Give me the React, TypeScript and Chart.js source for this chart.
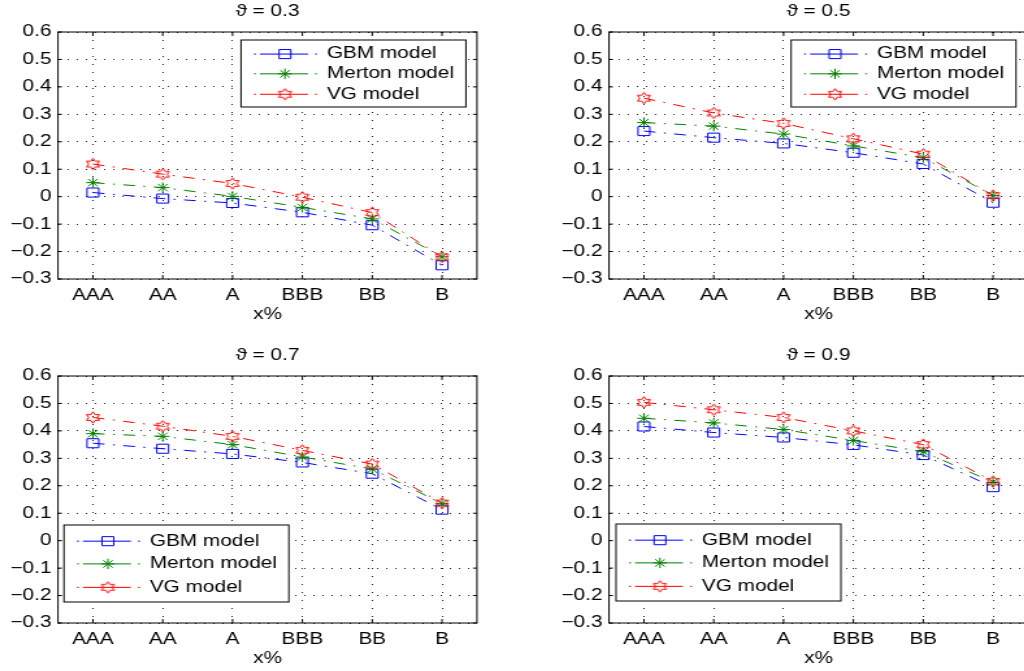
import React, { useEffect, useRef } from 'react';
import { Chart, registerables } from 'chart.js';
import { drawPoint } from 'chart.js/helpers';

Chart.register(...registerables);

// ---------- data ----------
const categories = ['AAA', 'AA', 'A', 'BBB', 'BB', 'B'];
const seriesNames = ['GBM model', 'Merton model', 'VG model'];
const seriesColors = ['#0000ff', '#008000', '#ff0000'];
const panelTitles = ['ϑ = 0.3', 'ϑ = 0.5', 'ϑ = 0.7', 'ϑ = 0.9'];
const xAxisTitle = 'x%';
const yTickValues = [-0.3, -0.2, -0.1, 0, 0.1, 0.2, 0.3, 0.4, 0.5, 0.6];
const yTickLabels = ['−0.3', '−0.2', '−0.1', '0', '0.1', '0.2', '0.3', '0.4', '0.5', '0.6'];

const gbm03 = [0.015, -0.007, -0.023, -0.057, -0.104, -0.25];
const merton03 = [0.051, 0.033, 0.001, -0.039, -0.081, -0.219];
const vg03 = [0.119, 0.082, 0.048, -0.002, -0.058, -0.22];

const gbm05 = [0.239, 0.215, 0.194, 0.16, 0.119, -0.022];
const merton05 = [0.27, 0.257, 0.228, 0.185, 0.142, 0.004];
const vg05 = [0.359, 0.305, 0.267, 0.211, 0.155, 0.004];

const gbm07 = [0.355, 0.335, 0.316, 0.285, 0.244, 0.113];
const merton07 = [0.39, 0.38, 0.35, 0.305, 0.261, 0.135];
const vg07 = [0.449, 0.417, 0.38, 0.329, 0.279, 0.137];

const gbm09 = [0.416, 0.394, 0.376, 0.349, 0.312, 0.195];
const merton09 = [0.446, 0.429, 0.405, 0.365, 0.324, 0.213];
const vg09 = [0.504, 0.477, 0.449, 0.4, 0.35, 0.216];

// ---------- layout ----------
const SX = 1.3; // horizontal stretch of the figure
const CANVAS_H = 335;
const FONT = '"Liberation Sans", Arial, "DejaVu Sans", sans-serif';
Chart.defaults.font.family = FONT;
Chart.defaults.color = '#000';

type LegendOpts = { corner: 'tr' | 'bl'; dx: number; dy: number; w: number; h: number };
type PanelSpec = {
  title: string;
  series: number[][];
  left: number;
  top: number;
  yw: number;
  width: number;
  pr: number;
  legend: LegendOpts;
};

const panels: PanelSpec[] = [
  { title: panelTitles[0], series: [gbm03, merton03, vg03], left: 0, top: 0, yw: 44.6, width: 390, pr: 23.1,
    legend: { corner: 'tr', dx: 8.5, dy: 8, w: 173, h: 67 } },
  { title: panelTitles[1], series: [gbm05, merton05, vg05], left: 512, top: 0, yw: 74.6, width: 420, pr: 23.1,
    legend: { corner: 'tr', dx: 9.2, dy: 8, w: 173, h: 67 } },
  { title: panelTitles[2], series: [gbm07, merton07, vg07], left: 0, top: 344, yw: 44.6, width: 390, pr: 23.1,
    legend: { corner: 'bl', dx: 4.6, dy: 21, w: 173, h: 77 } },
  { title: panelTitles[3], series: [gbm09, merton09, vg09], left: 512, top: 344, yw: 74.6, width: 420, pr: 23.1,
    legend: { corner: 'bl', dx: 5.4, dy: 22, w: 173, h: 77 } },
];

function makeHexagram(color: string, R: number): HTMLCanvasElement {
  const size = Math.ceil(2 * R + 3);
  const c = document.createElement('canvas');
  c.width = size;
  c.height = size;
  const ctx = c.getContext('2d')!;
  const cx = size / 2;
  const cy = size / 2;
  const r = R / Math.sqrt(3);
  ctx.strokeStyle = color;
  ctx.lineWidth = 1;
  ctx.beginPath();
  for (let i = 0; i < 12; i++) {
    const ang = -Math.PI / 2 + (i * Math.PI) / 6;
    const rad = i % 2 === 0 ? R : r;
    const x = cx + rad * Math.cos(ang);
    const y = cy + rad * Math.sin(ang);
    if (i === 0) ctx.moveTo(x, y);
    else ctx.lineTo(x, y);
  }
  ctx.closePath();
  ctx.stroke();
  return c;
}

const boxPlugin = {
  id: 'matlabBox',
  afterDatasetsDraw(chart: any) {
    const { ctx, chartArea: a } = chart;
    const xs = chart.scales.x;
    const ys = chart.scales.y;
    ctx.save();
    ctx.strokeStyle = '#000';
    ctx.lineWidth = 1;
    ctx.setLineDash([]);
    ctx.beginPath();
    const tl = 4;
    xs.ticks.forEach((_: any, i: number) => {
      const px = xs.getPixelForTick(i);
      ctx.moveTo(px, a.bottom);
      ctx.lineTo(px, a.bottom - tl);
      ctx.moveTo(px, a.top);
      ctx.lineTo(px, a.top + tl);
    });
    ys.ticks.forEach((_: any, i: number) => {
      const py = ys.getPixelForTick(i);
      ctx.moveTo(a.left, py);
      ctx.lineTo(a.left + tl / SX, py);
      ctx.moveTo(a.right, py);
      ctx.lineTo(a.right - tl / SX, py);
    });
    ctx.stroke();
    ctx.strokeRect(a.left, a.top, a.right - a.left, a.bottom - a.top);
    ctx.restore();
  },
};

const legendPlugin = {
  id: 'boxLegend',
  afterDraw(chart: any, _args: any, opts: LegendOpts) {
    if (!opts || !opts.w) return;
    const { ctx, chartArea: a } = chart;
    const { w, h } = opts;
    let x0: number;
    let y0: number;
    if (opts.corner === 'tr') {
      x0 = a.right - opts.dx - w;
      y0 = a.top + opts.dy;
    } else {
      x0 = a.left + opts.dx;
      y0 = a.bottom - opts.dy - h;
    }
    ctx.save();
    ctx.fillStyle = '#fff';
    ctx.fillRect(x0, y0, w, h);
    ctx.strokeStyle = '#000';
    ctx.lineWidth = 1;
    ctx.strokeRect(x0, y0, w, h);
    const rows = [0.21, 0.505, 0.81];
    chart.data.datasets.forEach((ds: any, i: number) => {
      const y = y0 + h * rows[i];
      ctx.strokeStyle = ds.borderColor;
      ctx.lineWidth = 1;
      ctx.setLineDash([]);
      ctx.beginPath();
      [[10, 11.5], [14.6, 51.5], [57, 58.5]].forEach(([s, e]) => {
        ctx.moveTo(x0 + s, y);
        ctx.lineTo(x0 + e, y);
      });
      ctx.stroke();
      ctx.fillStyle = 'rgba(0,0,0,0)';
      drawPoint(ctx, { pointStyle: ds.pointStyle, radius: ds.pointRadius, borderWidth: 1, rotation: 0 } as any, x0 + 33.8, y);
      ctx.fillStyle = '#000';
      ctx.font = `16px ${FONT}`;
      ctx.textBaseline = 'middle';
      ctx.textAlign = 'left';
      ctx.fillText(seriesNames[i], x0 + 66, y);
    });
    ctx.restore();
  },
};

function Panel({ spec }: { spec: PanelSpec }) {
  const ref = useRef<HTMLCanvasElement>(null);
  useEffect(() => {
    const hex = makeHexagram(seriesColors[2], 5.7);
    const styles: any[] = ['rect', 'star', hex];
    const radii = [6.4, 5.2, 5.7];
    const datasets = spec.series.map((vals, i) => ({
      label: seriesNames[i],
      data: vals,
      borderColor: seriesColors[i],
      backgroundColor: 'rgba(0,0,0,0)',
      borderWidth: 1,
      borderDash: [9, 6.5, 1.5, 6.5],
      pointStyle: styles[i],
      pointRadius: radii[i],
      pointBorderWidth: 1,
      pointBorderColor: seriesColors[i],
      pointBackgroundColor: 'rgba(0,0,0,0)',
      fill: false,
      tension: 0,
      order: 3 - i,
    }));
    const chart = new Chart(ref.current!, {
      type: 'line',
      data: { labels: categories, datasets },
      plugins: [boxPlugin, legendPlugin],
      options: {
        animation: false,
        responsive: false,
        maintainAspectRatio: false,
        devicePixelRatio: 1,
        layout: { padding: { top: 0, left: 0, right: spec.pr, bottom: 0 } },
        events: [],
        plugins: {
          legend: { display: false },
          tooltip: { enabled: false },
          title: {
            display: true,
            text: spec.title,
            fullSize: false,
            color: '#000',
            font: { size: 16, weight: 'normal', family: FONT, lineHeight: 1.2 },
            padding: { top: 2.4, bottom: 10.4 },
          },
          boxLegend: spec.legend,
        } as any,
        scales: {
          x: {
            type: 'category',
            offset: true,
            grid: { offset: false, color: '#222', lineWidth: 1, drawTicks: false },
            border: { display: false, dash: [1, 7] },
            ticks: { padding: 7, font: { size: 16 }, color: '#000', autoSkip: false, maxRotation: 0 },
            title: { display: true, text: xAxisTitle, font: { size: 16 }, color: '#000', padding: { top: 0, bottom: 10.4 } },
            afterFit: (s: any) => { s.height = 56; },
          },
          y: {
            min: -0.3,
            max: 0.6,
            grid: { color: '#222', lineWidth: 1, drawTicks: false },
            border: { display: false, dash: [1, 6] },
            afterBuildTicks: (s: any) => { s.ticks = yTickValues.map((v) => ({ value: v })); },
            ticks: {
              padding: 5,
              font: { size: 16 },
              color: '#000',
              callback: (_v: any, i: number) => yTickLabels[i],
            },
            afterFit: (s: any) => { s.width = spec.yw; },
          },
        },
      } as any,
    });
    return () => chart.destroy();
  }, []);
  return (
    <div
      style={{
        position: 'absolute',
        left: spec.left,
        top: spec.top,
        width: spec.width,
        height: CANVAS_H,
        transform: `scaleX(${SX})`,
        transformOrigin: '0 0',
      }}
    >
      <canvas ref={ref} width={spec.width} height={CANVAS_H} style={{ display: 'block' }} />
    </div>
  );
}

export default function App() {
  return (
    <div
      style={{
        position: 'fixed',
        left: 0,
        top: 0,
        width: 1024,
        height: 671,
        overflow: 'hidden',
        background: '#fff',
      }}
    >
      {panels.map((p, i) => (
        <Panel key={i} spec={p} />
      ))}
    </div>
  );
}
